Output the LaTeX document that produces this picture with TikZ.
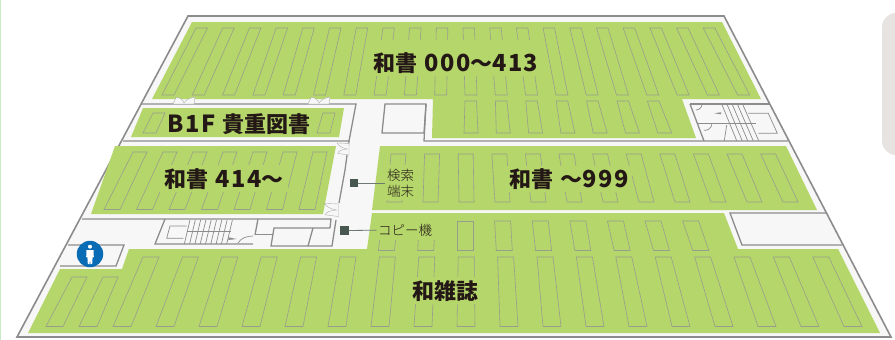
\documentclass[tikz,border=0pt]{standalone}
\usepackage{fontspec}
\setmainfont{Noto Sans CJK JP Light}
\newfontfamily\jpbold{Noto Sans CJK JP Black}
\newcommand{\numtext}[1]{{\fontsize{23.5}{23.5}\addfontfeature{LetterSpace=6}\selectfont #1}}
\usepackage{tikz}
\definecolor{areagreen}{RGB}{181,214,106}
\definecolor{floorwhite}{RGB}{247,247,247}
\definecolor{wallgray}{RGB}{140,140,140}
\definecolor{shelfgray}{RGB}{152,158,142}
\definecolor{labelink}{RGB}{35,24,21}
\definecolor{termgreen}{RGB}{72,88,80}
\definecolor{wcblue}{RGB}{10,108,181}
\definecolor{edgegreen}{RGB}{197,236,197}
\definecolor{panelgray}{RGB}{230,227,224}
\tikzstyle{area}=[fill=areagreen]
\tikzstyle{wall}=[draw=wallgray,line width=1.3pt]
\tikzstyle{thinwall}=[draw=wallgray,line width=0.7pt]
\tikzstyle{shelf}=[draw=shelfgray,line width=0.6pt]
\tikzstyle{doorwing}=[fill=floorwhite,draw=wallgray!70,line width=0.4pt]
\tikzstyle{arealabel}=[font=\jpbold\fontsize{22}{22}\selectfont,text=labelink,inner sep=0pt]
\tikzstyle{smalllabel}=[font=\fontsize{13.5}{16}\selectfont,text=labelink,inner sep=1.5pt,align=left]
\tikzstyle{terminal}=[rectangle,fill=termgreen,minimum size=8.5pt,inner sep=0pt]
\tikzstyle{leader}=[draw=termgreen!80,line width=0.8pt]
\begin{document}
\begin{tikzpicture}[x=1pt,y=-1pt]
  \useasboundingbox (0,0) rectangle (895,340);

  \fill[edgegreen] (0,0) rectangle (1.2,340);
  \fill[panelgray,rounded corners=14pt] (882,13) rectangle (920,155);

  \draw[wall,line width=1.6pt,fill=floorwhite,line join=miter] (188,16) -- (724,16) -- (891,337) -- (17,337) -- cycle;

  \fill[area] (192,22) -- (722,22) -- (761,99) -- (682,99) -- (696,138) -- (432,138) -- (433,99) -- (152,99) -- cycle;
  \fill[area] (143,108) -- (344,108) -- (339,137) -- (131,137) -- cycle;
  \fill[area] (115,146) -- (336,146) -- (323,214) -- (91,214) -- cycle;
  \fill[area] (380,146) -- (786,146) -- (817,210) -- (372,210) -- cycle;
  \fill[area] (372,213) -- (724,213) -- (738,249) -- (838,249) -- (880,333) -- (28,333) -- (60,269) -- (122,269) -- (129,249) -- (367,249) -- cycle;

  \foreach \i in {0,...,19}
    \draw[shelf] ({196+26.7*\i},28) -- ++(11.5,0) -- ({174+30.3*\i},95) -- ({162+30.3*\i},95) -- cycle;
  \foreach \i in {0,...,6}
    \draw[shelf] ({465+30.4*\i},101) -- ++(11.5,0) -- ({478+32.3*\i},133) -- ({464+32.3*\i},133) -- cycle;
  \foreach \x/\u in {153/143, 323/317}
    \draw[shelf] (\x,113) -- ++(12,0) -- (\u+13,133) -- (\u,133) -- cycle;
  \foreach \i in {0,...,6}
    \draw[shelf] ({133+30*\i},152) -- ++(14,0) -- ({120+32.5*\i},209.5) -- ({104+32.5*\i},209.5) -- cycle;
  \foreach \i in {0,...,11}
    \draw[shelf] ({391+33.6*\i},154) -- ++(15,0) -- ({402+36*\i},202) -- ({387+36*\i},202) -- cycle;
  \foreach \i in {-2,...,6}
    \draw[shelf] ({457+37.6*\i},221) -- ++(16,0) -- ({473+39.3*\i},250.5) -- ({457+39.3*\i},250.5) -- cycle;
  \foreach \i in {0,...,17}
    \draw[shelf] ({143+39.4*\i},257) -- ++(16,0) -- ({131+43*\i},326.5) -- ({113+43*\i},326.5) -- cycle;
  \foreach \a/\b/\c/\d in {72/87/63/46, 103/118/97/79}
    \draw[shelf] (\a,277) -- (\b,277) -- (\c,326.5) -- (\d,326.5) -- cycle;

  \foreach \a/\b/\c/\d in {370/40/541/76, 160/165/288/192, 506/166/632/192, 410/277/480/304, 385/165/416/200, 376/220/436/239.5}
    \fill[area] (\a,\b) rectangle (\c,\d);

  \draw[wall] (141,104) -- (356,104) -- (349,141) -- (123,141);
  \draw[wall] (349,141) -- (345,170) -- (339,203);
  \draw[wall] (336,220) -- (332,246) -- (271,246) -- (274,228) -- (330,228);
  \draw[wall] (82,219) -- (331,219) -- (330,228);
  \draw[wall] (313,228) -- (308,246);
  \draw[wall] (165,219) -- (155,244) -- (253,244);
  \draw[wall] (258,219) -- (255,235);
  \draw[thinwall] (256,234) -- (273,234);
  \draw[wall] (68,245) -- (124,245) -- (116,266) -- (60,266);
  \draw[wall] (385,104) -- (426,104) -- (424,133) -- (382,133) -- cycle;
  \draw[wall] (426,104) -- (424,141) -- (788,141);
  \draw[wall] (690,104) -- (770,104);
  \draw[wall] (690,104) -- (704,141);
  \draw[wall] (826,213) -- (730,213) -- (742,245) -- (842,245);

  \foreach \i in {0,...,4}
    \draw[thinwall] ({721.7+5.2*\i},104) -- ({736.7+5.5*\i},140.7);
  \draw[wall] (698.3,123.3) -- (755.7,123.3);
  \draw[thinwall] (748.3,113.3) -- (768.3,113.3) -- (777.3,133.3) -- (758.3,133.3);
  \draw[thinwall] (726.7,125) -- (724.3,140.7);
  \draw[thinwall] (702,104) arc (0:90:6);
  \draw[thinwall] (712,123.3) arc (0:100:7);
  \fill[wallgray] (714.3,113.3) -- (721,112.3) -- (721,114.3) -- cycle;

  \foreach \i in {0,...,8}
    \draw[thinwall] ({190+5.3*\i},220) -- ({184.3+5.3*\i},244);
  \draw[wall] (186.7,231.7) -- (230.7,231.7);
  \draw[thinwall] (186.7,226) -- (170,226) -- (166.7,238.3) -- (183.3,238.3);
  \draw[thinwall] (238,243) .. controls (241,238) and (247,236) .. (253,236);
  \fill[wallgray] (236.7,239) -- (228.3,237.3) -- (228.3,240) -- cycle;

  \foreach \x/\y/\r/\sx/\sy in {184/100.5/0/1/1, 319/100.5/0/1/1, 343/149/90/.55/1.7, 331.5/210/90/.6/2}
    \path[doorwing,shift={(\x,\y)},rotate=\r,xscale=\sx,yscale=\sy] (-11,3.5) -- (-8,-3) .. controls (-4,-3) and (-1,-1) .. (0,2.5) .. controls (2,-1) and (6,-2.5) .. (11,-3.5) -- (10,3.5) -- cycle;

  \node[arealabel] (honA) at (456,63.5) {和書\hspace{7pt}\numtext{000}～\numtext{413}};
  \node[arealabel] (kicho) at (239,124) {\numtext{B1F}\hspace{7pt}貴重図書};
  \node[arealabel] (honB) at (224,179.5) {和書\hspace{7pt}\numtext{414}～};
  \node[arealabel] (honC) at (569,179.5) {和書\hspace{7pt}～\numtext{999}};
  \node[arealabel] (zasshi) at (445,291) {和雑誌};

  \node[smalllabel] (kensaku) at (400.5,183) {検索\\端末};
  \node[smalllabel] (copy) at (405,230) {コピー機};
  \node[terminal] (termA) at (354,183) {};
  \node[terminal] (termB) at (344.5,230.5) {};
  \draw[leader] (termA) -- (kensaku);
  \draw[leader] (termB) -- (copy);

  \node[circle,fill=wcblue,minimum size=26.5pt,inner sep=0pt] (wc) at (90,254) {};
  \fill[white] (90,246.7) circle (2);
  \fill[white] (86.5,250) -- (93.5,250) -- (93.8,257) -- (92.6,257) -- (92.2,264) -- (90.4,264) -- (90,257.5) -- (89.6,264) -- (87.8,264) -- (87.4,257) -- (86.2,257) -- cycle;
\end{tikzpicture}
\end{document}
